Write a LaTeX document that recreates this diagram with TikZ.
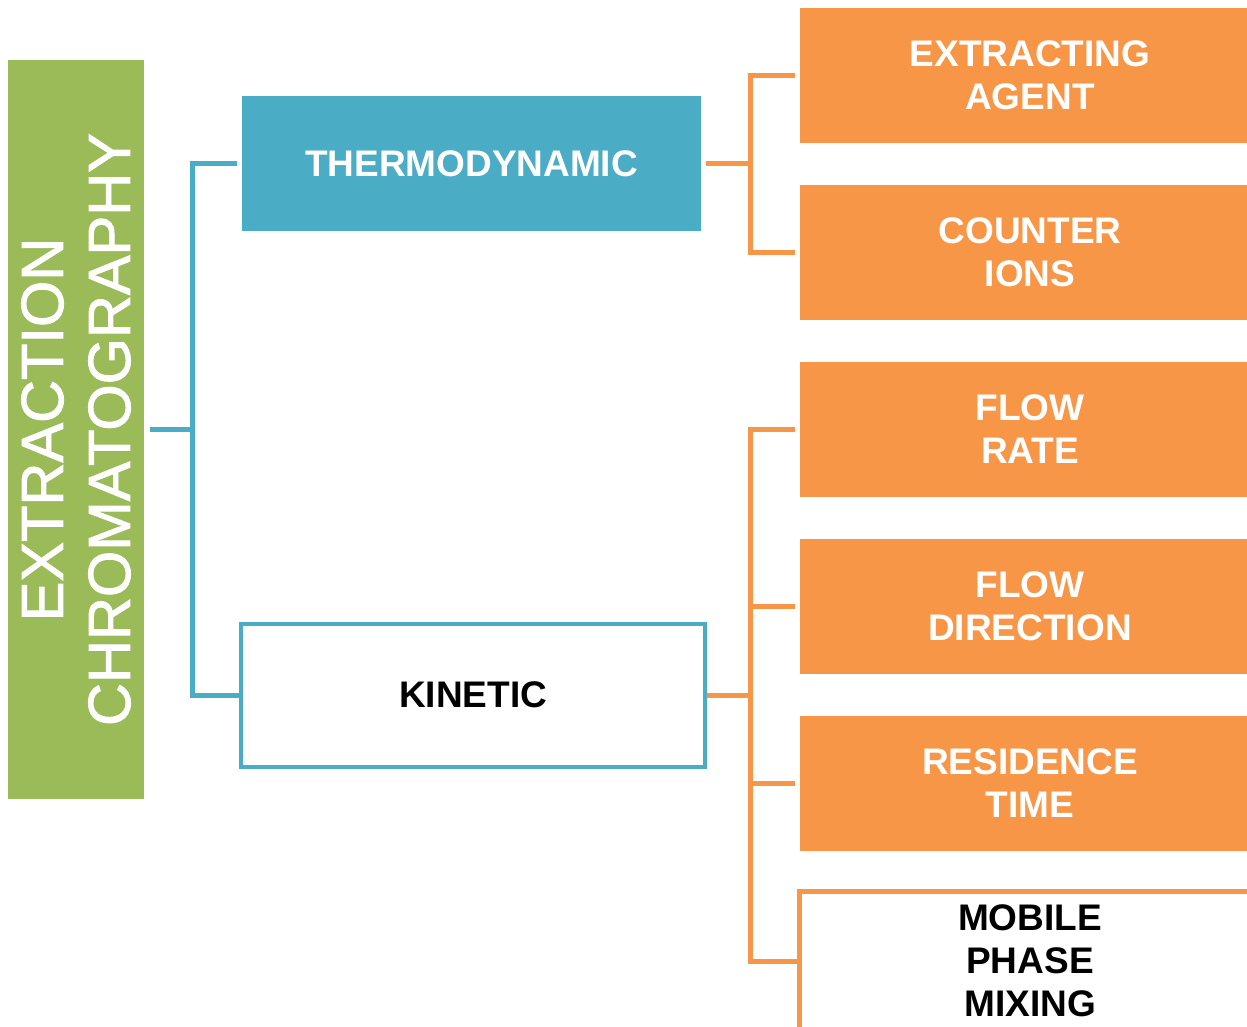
\documentclass[tikz,border=0pt]{standalone}
\usepackage{fontspec}
\setmainfont{Liberation Sans}
\newfontfamily\barfont{Liberation Sans}[FakeBold=1.6]
\usepackage{tikz}

\definecolor{ecgreen}{HTML}{9BBB59}
\definecolor{ecblue}{HTML}{4BACC6}
\definecolor{ecorange}{HTML}{F79646}

\begin{document}
\begin{tikzpicture}[x=1pt,y=-1pt,
  bigfont/.style={font=\fontsize{37}{43}\selectfont\bfseries},
  factor/.style={bigfont, fill=ecorange, text=white, minimum width=460pt, minimum height=135pt, inner sep=0pt, outer sep=5pt, align=center},
  blueline/.style={draw=ecblue, line width=5pt},
  orangeline/.style={draw=ecorange, line width=5pt}]
\useasboundingbox (0,0) rectangle (1247,1026);
\clip (0,0) rectangle (1247,1026);

% Extraction chromatography bar
\node[fill=ecgreen, minimum width=136pt, minimum height=739pt, inner sep=0pt, outer sep=6pt] (ec) at (76,429.5) {};
\node[rotate=90, text=white, align=center, font=\barfont\fontsize{59.5}{67}\selectfont] at (ec) {EXTRACTION\\CHROMATOGRAPHY};

% Thermodynamic and kinetic
\node[bigfont, fill=ecblue, text=white, minimum width=459pt, minimum height=135pt, inner sep=0pt, outer sep=5pt] (thermo) at (471.5,163.5) {THERMODYNAMIC};
\node[bigfont, draw=ecblue, line width=4pt, minimum width=464pt, minimum height=143pt, inner sep=0pt] (kinetic) at (473,695) {KINETIC};

% Factors
\node[factor] (agent) at (1030,75.5) {EXTRACTING\\AGENT};
\node[factor] (ions) at (1030,252.5) {COUNTER\\IONS};
\node[factor] (rate) at (1030,429.5) {FLOW\\RATE};
\node[factor] (direction) at (1030,606.5) {FLOW\\DIRECTION};
\node[factor] (residence) at (1030,783.5) {RESIDENCE\\TIME};
\node[bigfont, draw=ecorange, line width=5pt, minimum width=461pt, minimum height=139pt, inner sep=0pt, align=center] (mixing) at (1030,961) {MOBILE\\PHASE\\MIXING};

% Connectors
\coordinate (bsplit) at (192,429.5);
\coordinate (tsplit) at (750,163.5);
\coordinate (ksplit) at (750,695);
\draw[blueline] (ec.east) -- (bsplit);
\draw[blueline] (thermo.west) -| (bsplit) |- (kinetic.west);
\draw[orangeline] (thermo.east) -- (tsplit);
\draw[orangeline] (agent.west) -| (tsplit) |- (ions.west);
\draw[orangeline] (kinetic.east) -- (ksplit);
\draw[orangeline] (rate.west) -| (ksplit) |- (mixing.west);
\draw[orangeline] (direction.west) -- (direction.west -| ksplit);
\draw[orangeline] (residence.west) -- (residence.west -| ksplit);
\end{tikzpicture}
\end{document}
